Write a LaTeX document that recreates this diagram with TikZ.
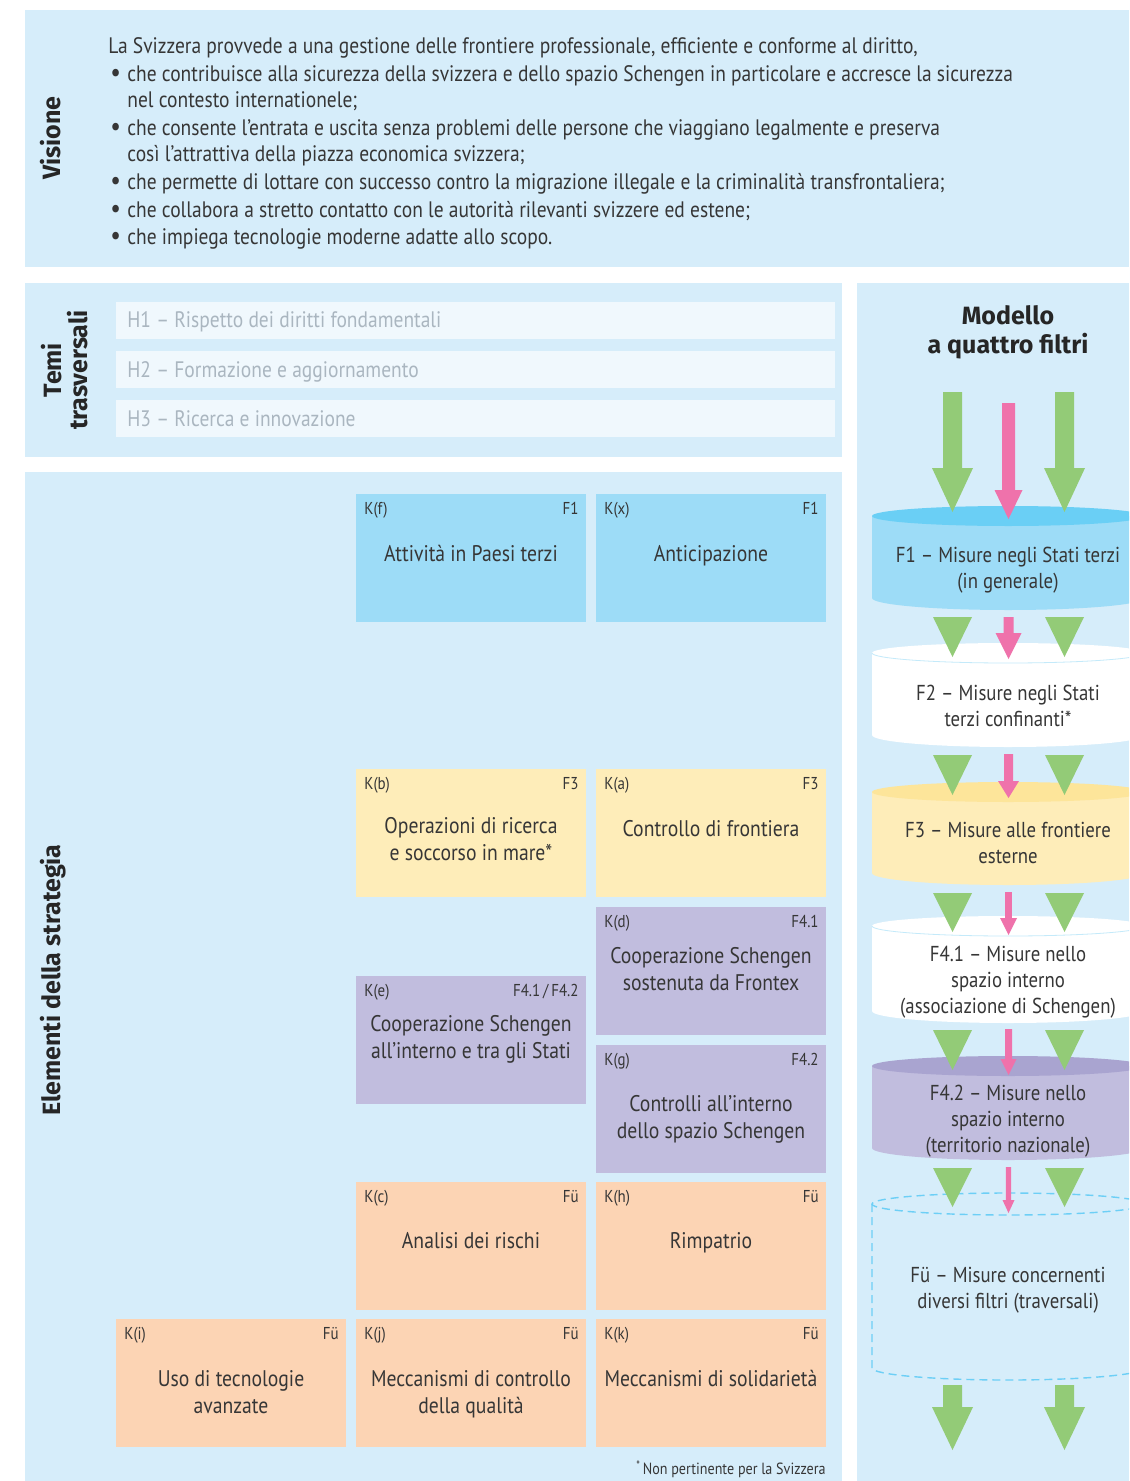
\documentclass[tikz,border=0pt]{standalone}
\usepackage{fontspec}
\setmainfont[FakeStretch=0.87]{PT Sans}
\newfontfamily\headfont{Fira Sans}
\definecolor{panelc}{HTML}{D6EDFA}
\definecolor{hboxc}{HTML}{F0F8FD}
\definecolor{htextc}{HTML}{AAB6C0}
\definecolor{kblue}{HTML}{9DDCF7}
\definecolor{kbluetop}{HTML}{6ACFF5}
\definecolor{kyellow}{HTML}{FEEDB9}
\definecolor{kyellowtop}{HTML}{FDE59A}
\definecolor{kpurple}{HTML}{C1BDDE}
\definecolor{kpurpletop}{HTML}{A9A4D0}
\definecolor{kpeach}{HTML}{FCD4B4}
\definecolor{arrgreen}{HTML}{93CB77}
\definecolor{arrpink}{HTML}{EF72AB}
\definecolor{txt}{HTML}{363636}
\definecolor{dashc}{HTML}{6DCFF6}
\newcommand\fatarrow[7]{\fill[#7] (#1-#5,#2) -- (#1+#5,#2) -- (#1+#5,#3) -- (#1+#6,#3) -- (#1,#4) -- (#1-#6,#3) -- (#1-#5,#3) -- cycle;}
\newcommand\greentri[3]{\fill[arrgreen] (#1-19.5,#2) -- (#1+19.5,#2) -- (#1,#3) -- cycle;}
\newcommand\cylfill[4]{%
  \fill[#3] (872,#1) -- (872,#2) arc[start angle=180,end angle=360,x radius=68pt,y radius=6pt] -- (1144,#1) -- cycle;
  \fill[#4] (1008,#1) ellipse[x radius=68pt,y radius=5pt];}
\newcommand\kelem[8]{%
  \node[kbox, fill=#4, anchor=north west] (#1) at (#2,#3) {};
  \node[klab, anchor=base west] (#1-k) at (#2+8,#3+20) {#5};
  \node[klab, anchor=base east] (#1-f) at (#2+223,#3+20) {#6};
  \node[ktext] (#1-t) at (#2+115,#3+#8) {#7};}
\newcommand\bul{\makebox[8.5pt][l]{\raisebox{0.3pt}{\fontsize{13.5}{13}\selectfont •}}}
\begin{document}
\begin{tikzpicture}[x=0.5pt,y=-0.5pt,
  kbox/.style={draw=none, minimum width=115pt, minimum height=64pt, inner sep=0pt, outer sep=0pt},
  klab/.style={font=\fontsize{8.6}{9}\selectfont, text=txt, inner sep=0pt},
  ktext/.style={font=\fontsize{11.3}{13.5}\selectfont, text=txt, align=center, inner sep=0pt,
    execute at begin node=\strut, execute at end node=\strut},
  ctext/.style={font=\fontsize{10.8}{13}\selectfont, text=txt, align=center, inner sep=0pt,
    execute at begin node=\strut, execute at end node=\strut},
  vtext/.style={font=\fontsize{11.2}{13}\selectfont, text=txt, anchor=base west, inner sep=0pt},
  htext/.style={font=\fontsize{11.2}{13}\selectfont, text=htextc, anchor=base west, inner sep=0pt},
  hbox/.style={fill=hboxc, draw=none, minimum width=359.5pt, minimum height=18.5pt, inner sep=0pt, anchor=north west},
  rotlab/.style={font=\headfont\bfseries\fontsize{12.5}{14}\selectfont, text=black!85, rotate=90, anchor=base, inner sep=0pt},
  title/.style={font=\headfont\bfseries\fontsize{12.5}{14}\selectfont, text=black!85, anchor=base, inner sep=0pt},
  dashcyl/.style={draw=dashc, line width=0.7pt, dash pattern=on 4pt off 2.5pt}]
\useasboundingbox (0,0) rectangle (1129,1481);
\clip (0,0) rectangle (1129,1481);
\fill[white] (0,0) rectangle (1129,1481);
% panels
\fill[panelc] (25,10) rectangle (1129,267);
\fill[panelc] (25,283) rectangle (842,457);
\fill[panelc] (25,472) rectangle (842,1481);
\fill[panelc] (857,283) rectangle (1129,1481);
% Visione
\node[rotlab] (lvis) at (60,138) {Visione};
\node[vtext] (v0) at (108,54) {La Svizzera provvede a una gestione delle frontiere professionale, efficiente e conforme al diritto,};
\node[vtext] (v1) at (110,82) {\bul che contribuisce alla sicurezza della svizzera e dello spazio Schengen in particolare e accresce la sicurezza};
\node[vtext] (v2) at (127,108) {nel contesto internationele;};
\node[vtext] (v3) at (110,136) {\bul che consente l’entrata e uscita senza problemi delle persone che viaggiano legalmente e preserva};
\node[vtext] (v4) at (127,162) {così l’attrattiva della piazza economica svizzera;};
\node[vtext] (v5) at (110,190) {\bul che permette di lottare con successo contro la migrazione illegale e la criminalità transfrontaliera;};
\node[vtext] (v6) at (110,218) {\bul che collabora a stretto contatto con le autorità rilevanti svizzere ed estene;};
\node[vtext] (v7) at (110,245) {\bul che impiega tecnologie moderne adatte allo scopo.};
% Temi trasversali
\node[rotlab] (ltemi) at (61,370) {Temi};
\node[rotlab] (ltras) at (87,370) {trasversali};
\node[hbox] (h1) at (116,302) {};
\node[hbox] (h2) at (116,351) {};
\node[hbox] (h3) at (116,400) {};
\node[htext] (h1t) at (127,328) {H1 – Rispetto dei diritti fondamentali};
\node[htext] (h2t) at (127,377) {H2 – Formazione e aggiornamento};
\node[htext] (h3t) at (127,426) {H3 – Ricerca e innovazione};
% Elementi della strategia
\node[rotlab] (lelem) at (60,980) {Elementi della strategia};
\kelem{kf}{356}{494}{kblue}{K(f)}{F1}{Attività in Paesi terzi}{62}
\kelem{kx}{596}{494}{kblue}{K(x)}{F1}{Anticipazione}{62}
\kelem{kb}{356}{769}{kyellow}{K(b)}{F3}{Operazioni di ricerca\\e soccorso in mare*}{74}
\kelem{ka}{596}{769}{kyellow}{K(a)}{F3}{Controllo di frontiera}{62}
\kelem{kd}{596}{907}{kpurple}{K(d)}{F4.1}{Cooperazione Schengen\\sostenuta da Frontex}{66}
\kelem{ke}{356}{976}{kpurple}{K(e)}{F4.1\,/\,F4.2}{Cooperazione Schengen\\all’interno e tra gli Stati}{65}
\kelem{kg}{596}{1045}{kpurple}{K(g)}{F4.2}{Controlli all’interno\\dello spazio Schengen}{76}
\kelem{kc}{356}{1182}{kpeach}{K(c)}{Fü}{Analisi dei rischi}{61}
\kelem{kh}{596}{1182}{kpeach}{K(h)}{Fü}{Rimpatrio}{61}
\kelem{ki}{116}{1319}{kpeach}{K(i)}{Fü}{Uso di tecnologie\\avanzate}{77}
\kelem{kj}{356}{1319}{kpeach}{K(j)}{Fü}{Meccanismi di controllo\\della qualità}{77}
\kelem{kk}{596}{1319}{kpeach}{K(k)}{Fü}{Meccanismi di solidarietà}{62}
\node[klab, anchor=base east, font=\fontsize{8.1}{9}\selectfont] (foot) at (826,1474) {\raisebox{2.4pt}{\fontsize{6}{6}\selectfont *}\,Non pertinente per la Svizzera};
% Modello a quattro filtri
\node[title] (mt1) at (1008,325) {Modello};
\node[title] (mt2) at (1008,353) {a quattro filtri};
% cylinders
\cylfill{516}{598}{kblue}{kbluetop}
\cylfill{653}{735}{white}{white}
\draw[kblue!60, line width=0.4pt] (872,653) arc[start angle=180,end angle=360,x radius=68pt,y radius=5pt];
\cylfill{792}{873}{kyellow}{kyellowtop}
\cylfill{926}{1011}{white}{white}
\draw[kblue!60, line width=0.4pt] (872,926) arc[start angle=180,end angle=360,x radius=68pt,y radius=5pt];
\cylfill{1066}{1148}{kpurple}{kpurpletop}
\draw[dashcyl] (1008,1204) ellipse[x radius=68pt,y radius=5.5pt];
\draw[dashcyl] (872,1204) -- (872,1368) arc[start angle=180,end angle=360,x radius=68pt,y radius=6pt] -- (1144,1204);
% cylinder texts
\node[ctext] (cf1) at (1008,572) {F1 – Misure negli Stati terzi\\(in generale)};
\node[ctext] (cf2) at (1008,710) {F2 – Misure negli Stati\\terzi confinanti*};
\node[ctext] (cf3) at (1008,847) {F3 – Misure alle frontiere\\esterne};
\node[ctext] (cf41) at (1008,984) {F4.1 – Misure nello\\spazio interno\\(associazione di Schengen)};
\node[ctext] (cf42) at (1008,1123) {F4.2 – Misure nello\\spazio interno\\(territorio nazionale)};
\node[ctext] (cfu) at (1008,1292) {Fü – Misure concernenti\\diversi filtri (traversali)};
% arrows
\fatarrow{952.5}{392}{468}{512}{9.5}{20.5}{arrgreen}
\fatarrow{1064.5}{392}{468}{512}{9.5}{20.5}{arrgreen}
\fatarrow{1008.5}{403}{490}{519}{6.5}{14}{arrpink}
\greentri{952.5}{617}{657}\greentri{1064.5}{617}{657}
\fatarrow{1008.5}{617}{633}{659}{5}{13}{arrpink}
\greentri{952.5}{755}{795}\greentri{1064.5}{755}{795}
\fatarrow{1008.5}{754}{781}{798}{4.5}{10.5}{arrpink}
\greentri{952.5}{893}{932}\greentri{1064.5}{893}{932}
\fatarrow{1008.5}{892}{918}{935}{3.3}{8.5}{arrpink}
\greentri{952.5}{1030}{1070}\greentri{1064.5}{1030}{1070}
\fatarrow{1008.5}{1029}{1059}{1075}{3.5}{8}{arrpink}
\greentri{952.5}{1168}{1207}\greentri{1064.5}{1168}{1207}
\fatarrow{1008.5}{1167}{1200}{1213}{2.7}{6}{arrpink}
\fatarrow{952.5}{1385}{1407}{1450}{9.5}{20.5}{arrgreen}
\fatarrow{1064.5}{1385}{1407}{1450}{9.5}{20.5}{arrgreen}
\end{tikzpicture}
\end{document}
